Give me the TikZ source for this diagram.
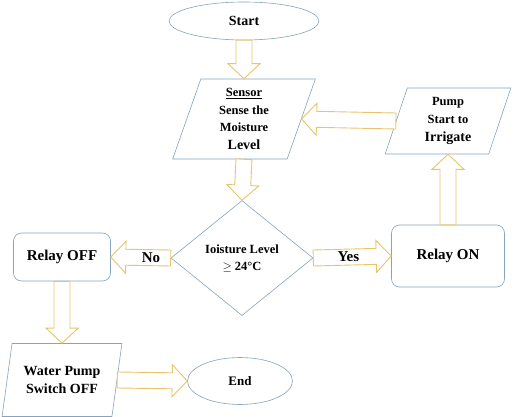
\documentclass[tikz,border=0pt]{standalone}
\usepackage{fontspec}
\setmainfont{Liberation Serif}
\usetikzlibrary{shapes.geometric,calc}

\definecolor{nodeblue}{HTML}{87A4BC}
\definecolor{arrowgold}{HTML}{E9C46A}

% hollow block arrow from #1 to #2
\newcommand{\flowarrow}[2]{%
  \coordinate (fa-base) at ($(#2)!15pt!(#1)$);
  \draw[flow] ($(#1)!8pt!90:(#2)$) -- ($(fa-base)!8pt!90:(#2)$)
    -- ($(fa-base)!16pt!90:(#2)$) -- (#2)
    -- ($(fa-base)!16pt!-90:(#2)$) -- ($(fa-base)!8pt!-90:(#2)$)
    -- ($(#1)!8pt!-90:(#2)$) -- cycle;
}

\begin{document}
\begin{tikzpicture}[x=1pt,y=-1pt,
    box/.style={draw=nodeblue,fill=white,line width=0.6pt,align=center,
      font=\bfseries\fontsize{12.5}{17.5}\selectfont,inner sep=1pt},
    terminal/.style={box,ellipse},
    io/.style={box,trapezium,trapezium left angle=75,trapezium right angle=105,
      trapezium stretches=true},
    process/.style={box,rectangle,rounded corners=8pt,font=\bfseries\fontsize{15}{17}\selectfont},
    decision/.style={box,diamond,inner sep=0pt},
    flow/.style={draw=arrowgold,fill=white,line width=0.9pt,line join=miter},
    flowlabel/.style={font=\bfseries\fontsize{15}{17}\selectfont}]
  \useasboundingbox (0,0) rectangle (514,417);
  % Nodes
  \node[terminal,minimum width=150pt,minimum height=38pt,font=\bfseries\fontsize{14}{16}\selectfont] (start) at (244,21) {Start};
  \node[io,minimum width=143pt,minimum height=80pt] (sensor) at (244,119)
    {\underline{Sensor}\\Sense the\\Moisture\\{\fontsize{14}{16}\selectfont Level}};
  \node[io,minimum width=126pt,minimum height=66pt,font=\bfseries\fontsize{12.5}{18}\selectfont] (pump) at (448,121)
    {Pump\\Start to\\{\fontsize{14}{16}\selectfont Irrigate}};
  \node[decision,minimum width=142pt,minimum height=115pt,font=\bfseries\fontsize{12.5}{17}\selectfont] (check) at (242,258)
    {Ioisture Level\\$\geq$ 24°C};
  \node[process,minimum width=97pt,minimum height=48pt] (relayoff) at (62,257) {Relay OFF};
  \node[process,minimum width=113pt,minimum height=62pt] (relayon) at (448,256) {Relay ON};
  \node[io,minimum width=120pt,minimum height=73pt,font=\bfseries\fontsize{14}{18}\selectfont] (water) at (62,380)
    {Water Pump\\Switch OFF};
  \node[terminal,minimum width=105pt,minimum height=47pt,font=\bfseries\fontsize{13}{16}\selectfont] (end) at (240,381) {End};
  % Edges
  \flowarrow{start.south}{sensor.north}
  \flowarrow{sensor.south}{check.north}
  \flowarrow{check.west}{relayoff.east}
  \flowarrow{check.east}{relayon.west}
  \flowarrow{relayon.north}{pump.south}
  \flowarrow{pump.left side}{sensor.right side}
  \flowarrow{relayoff.south}{water.north}
  \flowarrow{water.right side}{end.west}
  % Labels
  \node[flowlabel] (no) at ($(check.west)!0.33!(relayoff.east)$) {No};
  \node[flowlabel] (yes) at ($(check.east)!0.45!(relayon.west)$) {Yes};
\end{tikzpicture}
\end{document}
